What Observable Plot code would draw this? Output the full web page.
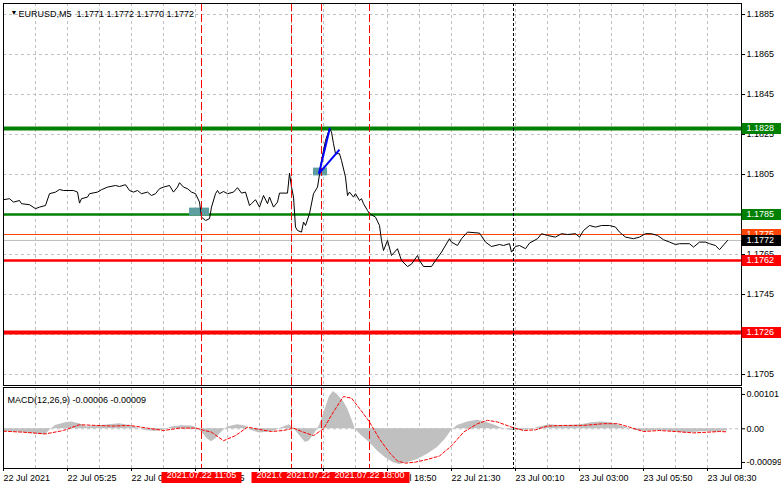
<!DOCTYPE html>
<html><head><meta charset="utf-8">
<script src="https://cdn.jsdelivr.net/npm/d3@7"></script>
<script src="https://cdn.jsdelivr.net/npm/@observablehq/plot@0.6"></script>
<style>
body{margin:0;background:#fff;}
#chart{position:relative;width:781px;height:489px;overflow:hidden;background:#fff;}
#chart svg{position:absolute;left:0;}
</style></head><body><div id="chart"></div>
<script>
// ---------- data ----------
const symbolTitle = "EURUSD,M5  1.1771 1.1772 1.1770 1.1772";
const macdTitle = "MACD(12,26,9) -0.00006 -0.00009";
const barCount = 369;
const timeTickBars = [0, 32, 64, 96, 128, 160, 192, 224, 256, 288, 320, 352];
const timeTickLabels = ["22 Jul 2021", "22 Jul 05:25", "22 Jul 08:05", "22 Jul 10:45", "22 Jul 13:25", "22 Jul 16:05",
  "22 Jul 18:50", "22 Jul 21:30", "23 Jul 00:10", "23 Jul 03:00", "23 Jul 05:50", "23 Jul 08:30"];
const priceTicks = [1.1885, 1.1865, 1.1845, 1.1825, 1.1805, 1.1785, 1.1765, 1.1745, 1.1725, 1.1705];
const macdTicks = [0.00101, 0, -0.00099];
const levelPrices = [1.1828, 1.1785, 1.1762, 1.1726];
const askPrice = 1.1775;
const bidPrice = 1.1772;
const eventBars = [99, 144, 159, 183];
const eventLabels = ["2021.07.22 11:05", "2021.07.22 14:45", "2021.07.22 16:00", "2021.07.22 18:00"];
const daySeparatorBar = 255;
// [bar, close]
const closeSeries = [
  [0,1.17924],[3,1.17929],[5,1.17912],[8,1.17920],[9,1.17904],[13,1.17899],[16,1.17879],[18,1.17887],[21,1.17895],
  [23,1.17954],[26,1.17962],[28,1.17975],[30,1.17970],[35,1.17970],[37,1.17962],[38,1.17907],[39,1.17929],[42,1.17937],
  [43,1.17954],[47,1.17962],[49,1.17974],[52,1.17987],[56,1.17995],[58,1.17990],[61,1.17999],[63,1.17970],[65,1.17962],
  [67,1.17970],[69,1.17954],[72,1.17962],[74,1.17945],[76,1.17954],[78,1.17979],[80,1.17987],[83,1.17995],[85,1.17962],
  [87,1.17987],[88,1.18009],[90,1.17987],[92,1.17979],[94,1.17962],[96,1.17954],[98,1.17912],[99,1.17837],[101,1.17820],
  [103,1.17829],[104,1.17887],[106,1.17954],[107,1.17970],[108,1.17954],[110,1.17965],[112,1.17954],[115,1.17962],
  [117,1.17984],[119,1.17957],[121,1.17962],[123,1.17895],[124,1.17904],[126,1.17924],[128,1.17887],[130,1.17945],
  [132,1.17904],[133,1.17937],[135,1.17887],[137,1.17912],[138,1.17957],[142,1.17957],[143,1.18057],[144,1.17987],
  [145,1.17937],[146,1.17787],[147,1.17770],[149,1.17762],[150,1.17812],[151,1.17795],[153,1.17854],[155,1.17954],
  [157,1.17987],[158,1.18050],[159,1.18120],[161,1.18220],[163,1.18280],[164,1.18262],[165,1.18204],[166,1.18154],
  [168,1.18154],[169,1.18120],[171,1.18037],[172,1.17945],[173,1.17962],[175,1.17937],[176,1.17954],[178,1.17920],
  [179,1.17929],[180,1.17904],[182,1.17870],[183,1.17854],[186,1.17837],[188,1.17795],[189,1.17720],[190,1.17670],
  [192,1.17720],[194,1.17645],[197,1.17679],[199,1.17620],[202,1.17590],[204,1.17602],[207,1.17645],[208,1.17620],
  [210,1.17590],[214,1.17590],[216,1.17620],[219,1.17662],[223,1.17729],[224,1.17712],[227,1.17695],[229,1.17729],
  [232,1.17762],[238,1.17757],[241,1.17712],[244,1.17690],[248,1.17700],[250,1.17695],[253,1.17704],[254,1.17662],
  [256,1.17690],[258,1.17695],[261,1.17679],[263,1.17707],[267,1.17729],[269,1.17754],[272,1.17745],[276,1.17737],
  [279,1.17754],[282,1.17750],[286,1.17754],[288,1.17737],[290,1.17770],[293,1.17795],[296,1.17787],[299,1.17795],
  [303,1.17795],[306,1.17787],[308,1.17762],[311,1.17737],[315,1.17729],[318,1.17737],[321,1.17754],[324,1.17754],
  [327,1.17745],[330,1.17724],[333,1.17712],[336,1.17700],[338,1.17704],[343,1.17704],[345,1.17687],[348,1.17712],
  [351,1.17712],[353,1.17704],[356,1.17695],[358,1.17674],[362,1.17720]
];
// [bar, histogram]
const macdHistogram = [
  [0,-0.00008],[8,-0.00010],[16,-0.00015],[21,-0.00018],[23,-0.00005],[26,0.00010],[31,0.00018],[34,0.00020],
  [38,0.00015],[42,0.00005],[46,0.00008],[53,0.00012],[58,0.00015],[63,0.00010],[67,0.00002],[71,-0.00005],
  [76,-0.00008],[81,-0.00002],[84,0.00005],[89,0.00009],[94,0.00008],[97,0.00002],[100,-0.00015],[102,-0.00030],
  [104,-0.00038],[106,-0.00030],[109,-0.00010],[112,0.00005],[117,0.00012],[121,0.00008],[124,-0.00005],
  [128,-0.00012],[132,-0.00010],[136,-0.00006],[140,0.00005],[143,0.00012],[146,-0.00005],[148,-0.00020],
  [151,-0.00040],[153,-0.00035],[156,-0.00010],[158,0.00010],[161,0.00060],[163,0.00095],[165,0.00110],
  [167,0.00100],[170,0.00080],[172,0.00060],[174,0.00030],[176,-0.00002],[179,-0.00020],[183,-0.00040],
  [187,-0.00065],[191,-0.00085],[195,-0.00100],[198,-0.00105],[202,-0.00100],[207,-0.00090],[212,-0.00075],
  [217,-0.00055],[221,-0.00030],[224,-0.00005],[227,0.00010],[232,0.00020],[237,0.00025],[241,0.00020],
  [246,0.00010],[249,0.00002],[254,-0.00005],[259,-0.00005],[264,-0.00002],[268,0.00005],[273,0.00012],
  [278,0.00010],[283,0.00010],[289,0.00012],[294,0.00018],[299,0.00020],[304,0.00018],[308,0.00010],
  [312,0.00002],[316,-0.00005],[321,-0.00008],[326,-0.00005],[331,-0.00006],[336,-0.00010],[341,-0.00012],
  [346,-0.00010],[351,-0.00008],[356,-0.00010],[359,-0.00008],[362,-0.00006]
];
// [bar, signal]
const macdSignal = [
  [0,-0.00007],[10,-0.00010],[21,-0.00015],[30,-0.00005],[38,0.00012],[46,0.00010],[55,0.00008],[63,0.00010],
  [72,0.00002],[80,-0.00005],[88,0.00002],[96,0.00002],[104,-0.00010],[110,-0.00035],[116,-0.00020],[122,0.00005],
  [128,-0.00002],[134,-0.00008],[140,-0.00005],[145,0.00002],[150,-0.00010],[155,-0.00020],[160,0.00000],
  [165,0.00050],[170,0.00095],[174,0.00090],[178,0.00060],[183,0.00020],[188,-0.00030],[193,-0.00070],
  [197,-0.00095],[201,-0.00101],[206,-0.00098],[212,-0.00090],[218,-0.00080],[224,-0.00050],[230,-0.00010],
  [237,0.00015],[242,0.00025],[247,0.00020],[254,0.00005],[260,-0.00005],[266,-0.00003],[272,0.00008],
  [280,0.00010],[290,0.00010],[300,0.00015],[307,0.00015],[313,0.00005],[320,-0.00008],[328,-0.00005],
  [336,-0.00008],[345,-0.00012],[352,-0.00010],[358,-0.00008],[362,-0.00009]
];
// entry markers: [barStart, barEnd, priceLow, priceHigh]
const entryMarkers = [[93, 103, 1.17842, 1.17882], [155, 162, 1.18043, 1.18082]];
const trendOrigin = [157.7, 1.18054];
const trendTargets = [[163.2, 1.18284], [168, 1.18174]];

// ---------- layout ----------
const W = 781, mainH = 386, macdTop = 386, macdH = 103;
const mL = 3, mR = 40;
const font = "'Liberation Sans', Arial, sans-serif";
const gridBars = d3.range(16, barCount - 1, 16);
const gridStyle = {stroke: "#c0c0c0", strokeDasharray: "3,3"};
const frameW = W - mL - mR;

function eventRules() {
  return Plot.ruleX(eventBars, {stroke: "#ff0000", strokeOpacity: 1, strokeWidth: 1, strokeDasharray: "8,3"});
}

function priceTag(value, fill) {
  return [
    Plot.ruleY([value], {stroke: fill, strokeWidth: 11, insetLeft: frameW + 0.5, insetRight: -mR}),
    Plot.text([value], {y: d => d, frameAnchor: "right", dx: 5, textAnchor: "start", fill: "white", text: d => d.toFixed(4)})
  ];
}

const levelStyles = [
  {stroke: "#008000", strokeWidth: 4},
  {stroke: "#008000", strokeWidth: 2.5},
  {stroke: "#ff0000", strokeWidth: 2.5},
  {stroke: "#ff0000", strokeWidth: 4}
];

const main = Plot.plot({
  width: W, height: mainH,
  marginTop: 3, marginBottom: 1, marginLeft: mL, marginRight: mR,
  x: {domain: [0, barCount], axis: null},
  y: {domain: [1.16995, 1.18905], axis: null},
  style: {fontFamily: font, fontSize: "9px", background: "transparent", color: "black", overflow: "visible"},
  marks: [
    Plot.ruleY(priceTicks, gridStyle),
    Plot.ruleX(gridBars, gridStyle),
    Plot.ruleY([bidPrice], {stroke: "#c0c0c0"}),
    Plot.ruleY([askPrice], {stroke: "#ff4500"}),
    ...levelPrices.map((p, i) => Plot.ruleY([p], levelStyles[i])),
    Plot.ruleX([daySeparatorBar], {stroke: "black", strokeDasharray: "3,2"}),
    Plot.rect(entryMarkers, {x1: d => d[0], x2: d => d[1], y1: d => d[2], y2: d => d[3], fill: "#5f9ea0"}),
    Plot.line(closeSeries, {x: d => d[0], y: d => d[1], stroke: "black", strokeWidth: 1}),
    eventRules(),
    Plot.link(trendTargets, {x1: trendOrigin[0], y1: trendOrigin[1], x2: d => d[0], y2: d => d[1], stroke: "#0000ff", strokeWidth: 2}),
    Plot.frame({stroke: "black"}),
    Plot.axisY(priceTicks, {anchor: "right", tickSize: 3, tickPadding: 2, tickFormat: d => d.toFixed(4), label: null}),
    ...priceTag(askPrice, "#ff4500"),
    ...priceTag(bidPrice, "#000000"),
    ...levelPrices.flatMap((p, i) => priceTag(p, levelStyles[i].stroke)),
    Plot.text(["\u25BC"], {frameAnchor: "top-left", dx: 7, dy: 7, fontSize: 7, text: d => d}),
    Plot.text([symbolTitle], {frameAnchor: "top-left", dx: 15, dy: 7, textAnchor: "start", text: d => d})
  ]
});
main.style.top = "0px";

const macd = Plot.plot({
  width: W, height: macdH,
  marginTop: 1, marginBottom: 21, marginLeft: mL, marginRight: mR,
  x: {domain: [0, barCount], axis: null},
  y: {domain: [-0.0011676, 0.0012147], axis: null},
  style: {fontFamily: font, fontSize: "9px", background: "transparent", color: "black", overflow: "visible"},
  marks: [
    Plot.ruleX(gridBars, gridStyle),
    Plot.ruleY([0], gridStyle),
    Plot.areaY(macdHistogram, {x: d => d[0], y: d => d[1], fill: "#c0c0c0"}),
    Plot.line(macdSignal, {x: d => d[0], y: d => d[1], stroke: "#ff0000", strokeDasharray: "3,2", strokeWidth: 1}),
    eventRules(),
    Plot.ruleX([daySeparatorBar], {stroke: "black", strokeDasharray: "3,2"}),
    Plot.frame({stroke: "black"}),
    Plot.axisY(macdTicks, {anchor: "right", tickSize: 3, tickPadding: 2, tickFormat: d => d === 0 ? "0.00" : d.toFixed(5), label: null}),
    Plot.axisX(timeTickBars, {anchor: "bottom", tickSize: 3, tickPadding: 3, textAnchor: "start",
      tickFormat: d => timeTickLabels[timeTickBars.indexOf(d)], label: null}),
    ...eventBars.flatMap((b, i) => [
      Plot.ruleX([b], {stroke: "#ff0000", strokeWidth: 80, insetTop: 85, insetBottom: -15}),
      Plot.text([b], {x: d => d, frameAnchor: "bottom", dy: 9.5, fill: "white", text: () => eventLabels[i]})
    ]),
    Plot.text([macdTitle], {frameAnchor: "top-left", dx: 4, dy: 9, textAnchor: "start", text: d => d})
  ]
});
macd.style.top = macdTop + "px";

const chart = document.getElementById("chart");
chart.appendChild(main);
chart.appendChild(macd);
</script>
</body></html>
